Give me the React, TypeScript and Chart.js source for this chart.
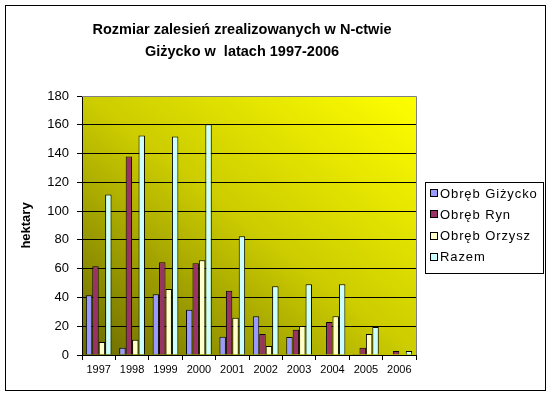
import React, { useEffect, useRef } from 'react';
import { Chart, registerables } from 'chart.js';

Chart.register(...registerables);

const years = ['1997', '1998', '1999', '2000', '2001', '2002', '2003', '2004', '2005', '2006'];
const obrebGizycko = [41.6, 5.1, 42.3, 31.4, 12.7, 27.0, 12.5, 0, 0.7, 0];
const obrebRyn = [61.7, 138.0, 64.5, 63.8, 44.6, 14.6, 17.6, 22.9, 5.1, 2.8];
const obrebOrzysz = [9.0, 10.6, 45.8, 65.9, 25.9, 6.2, 20.1, 27.0, 14.6, 0];
const razem = [111.6, 152.5, 151.8, 160.4, 82.5, 47.8, 49.2, 49.2, 19.4, 2.8];

const seriesNames = ['Obręb Giżycko', 'Obręb Ryn', 'Obręb Orzysz', 'Razem'];
const seriesColors = ['#9999ff', '#993366', '#ffffcc', '#ccffff'];
const titleLines = ['Rozmiar zalesień zrealizowanych w N-ctwie', 'Giżycko w  latach 1997-2006'];
const yTitle = 'hektary';
const yTicks = { min: 0, max: 180, step: 20 };

const FONT = "'Liberation Sans', Arial, sans-serif";

const backgroundPlugin = {
  id: 'plotBackground',
  beforeDraw(chart: any) {
    const { ctx, chartArea } = chart;
    const { left, top, right, bottom } = chartArea;
    ctx.save();
    ctx.fillStyle = '#ffffff';
    ctx.fillRect(0, 0, chart.width, chart.height);
    ctx.beginPath();
    ctx.rect(left, top, right - left, bottom - top);
    ctx.clip();
    ctx.translate(left, bottom);
    ctx.scale(right - left, -(bottom - top));
    const g = ctx.createLinearGradient(0, 0, 1, 1);
    g.addColorStop(0, '#6a6a00');
    g.addColorStop(0.5, '#cccc00');
    g.addColorStop(1, '#ffff00');
    ctx.fillStyle = g;
    ctx.fillRect(0, 0, 1, 1);
    ctx.restore();
  },
  afterDraw(chart: any) {
    const { ctx, chartArea } = chart;
    const { left, top, right, bottom } = chartArea;
    ctx.save();
    ctx.strokeStyle = '#808080';
    ctx.lineWidth = 1;
    ctx.beginPath();
    ctx.moveTo(left, Math.round(top) + 0.5);
    ctx.lineTo(Math.round(right) + 0.5, Math.round(top) + 0.5);
    ctx.lineTo(Math.round(right) + 0.5, bottom);
    ctx.stroke();

    ctx.strokeStyle = '#000000';
    ctx.strokeRect(5.5, 5.5, 540, 385);

    ctx.fillStyle = '#000000';
    ctx.font = `bold 14.5px ${FONT}`;
    ctx.textAlign = 'center';
    ctx.textBaseline = 'alphabetic';
    ctx.fillText(titleLines[0], 242, 34);
    ctx.fillText(titleLines[1], 242, 56);

    const lx = 425.5, ly = 182.5, lw = 118, lh = 91;
    ctx.fillStyle = '#ffffff';
    ctx.fillRect(lx, ly, lw, lh);
    ctx.strokeStyle = '#000000';
    ctx.strokeRect(lx, ly, lw, lh);
    ctx.font = `13px ${FONT}`;
    if ('letterSpacing' in ctx) (ctx as any).letterSpacing = '0.9px';
    ctx.textAlign = 'left';
    ctx.textBaseline = 'middle';
    chart.data.datasets.forEach((ds: any, i: number) => {
      const cy = 193 + i * 21.3;
      ctx.fillStyle = ds.backgroundColor;
      ctx.fillRect(430.5, Math.round(cy) - 3.5, 7, 7);
      ctx.strokeStyle = '#000000';
      ctx.strokeRect(430.5, Math.round(cy) - 3.5, 7, 7);
      ctx.fillStyle = '#000000';
      ctx.fillText(ds.label, 440, cy + 1);
    });
    ctx.restore();
  },
};

export default function App() {
  const canvasRef = useRef<HTMLCanvasElement | null>(null);

  useEffect(() => {
    document.body.style.margin = '0';
    const canvas = canvasRef.current;
    if (!canvas) return;
    const seriesData = [obrebGizycko, obrebRyn, obrebOrzysz, razem];
    const chart = new Chart(canvas, {
      type: 'bar',
      data: {
        labels: years,
        datasets: seriesData.map((d, i) => ({
          label: seriesNames[i],
          data: d,
          backgroundColor: seriesColors[i],
          borderColor: '#000000',
          borderWidth: 1,
          categoryPercentage: 0.77,
          barPercentage: 1.0,
        })),
      },
      options: {
        animation: false,
        responsive: false,
        devicePixelRatio: 1,
        layout: { padding: { top: 96, right: 136, bottom: 0, left: 0 } },
        plugins: {
          legend: { display: false },
          title: { display: false },
          tooltip: { enabled: false },
        },
        scales: {
          x: {
            afterFit: (s: any) => { s.height = 41; },
            grid: {
              offset: true,
              drawOnChartArea: false,
              drawTicks: true,
              tickLength: 5,
              color: '#000000',
            },
            border: { color: '#000000', width: 1 },
            ticks: {
              color: '#000000',
              font: { family: FONT, size: 11 },
              padding: 3,
              maxRotation: 0,
              autoSkip: false,
            },
          },
          y: {
            min: yTicks.min,
            max: yTicks.max,
            afterFit: (s: any) => { s.width = 82; },
            grid: {
              color: (c: any) => (c.tick && c.tick.value === yTicks.max ? '#808080' : '#000000'),
              tickColor: '#000000',
              tickLength: 5,
              drawTicks: true,
            },
            border: { color: '#000000', width: 1 },
            ticks: {
              stepSize: yTicks.step,
              color: '#000000',
              font: { family: FONT, size: 13 },
              padding: 8,
            },
            title: {
              display: true,
              text: yTitle,
              color: '#000000',
              font: { family: FONT, size: 13, weight: 'bold' },
              padding: { top: 19, bottom: 0 },
            },
          },
        },
      },
      plugins: [backgroundPlugin],
    } as any);
    return () => chart.destroy();
  }, []);

  return (
    <div style={{ position: 'absolute', left: 0, top: 0, width: 552, height: 396, background: '#fff' }}>
      <canvas ref={canvasRef} width={552} height={396} style={{ display: 'block', width: 552, height: 396 }} />
    </div>
  );
}
